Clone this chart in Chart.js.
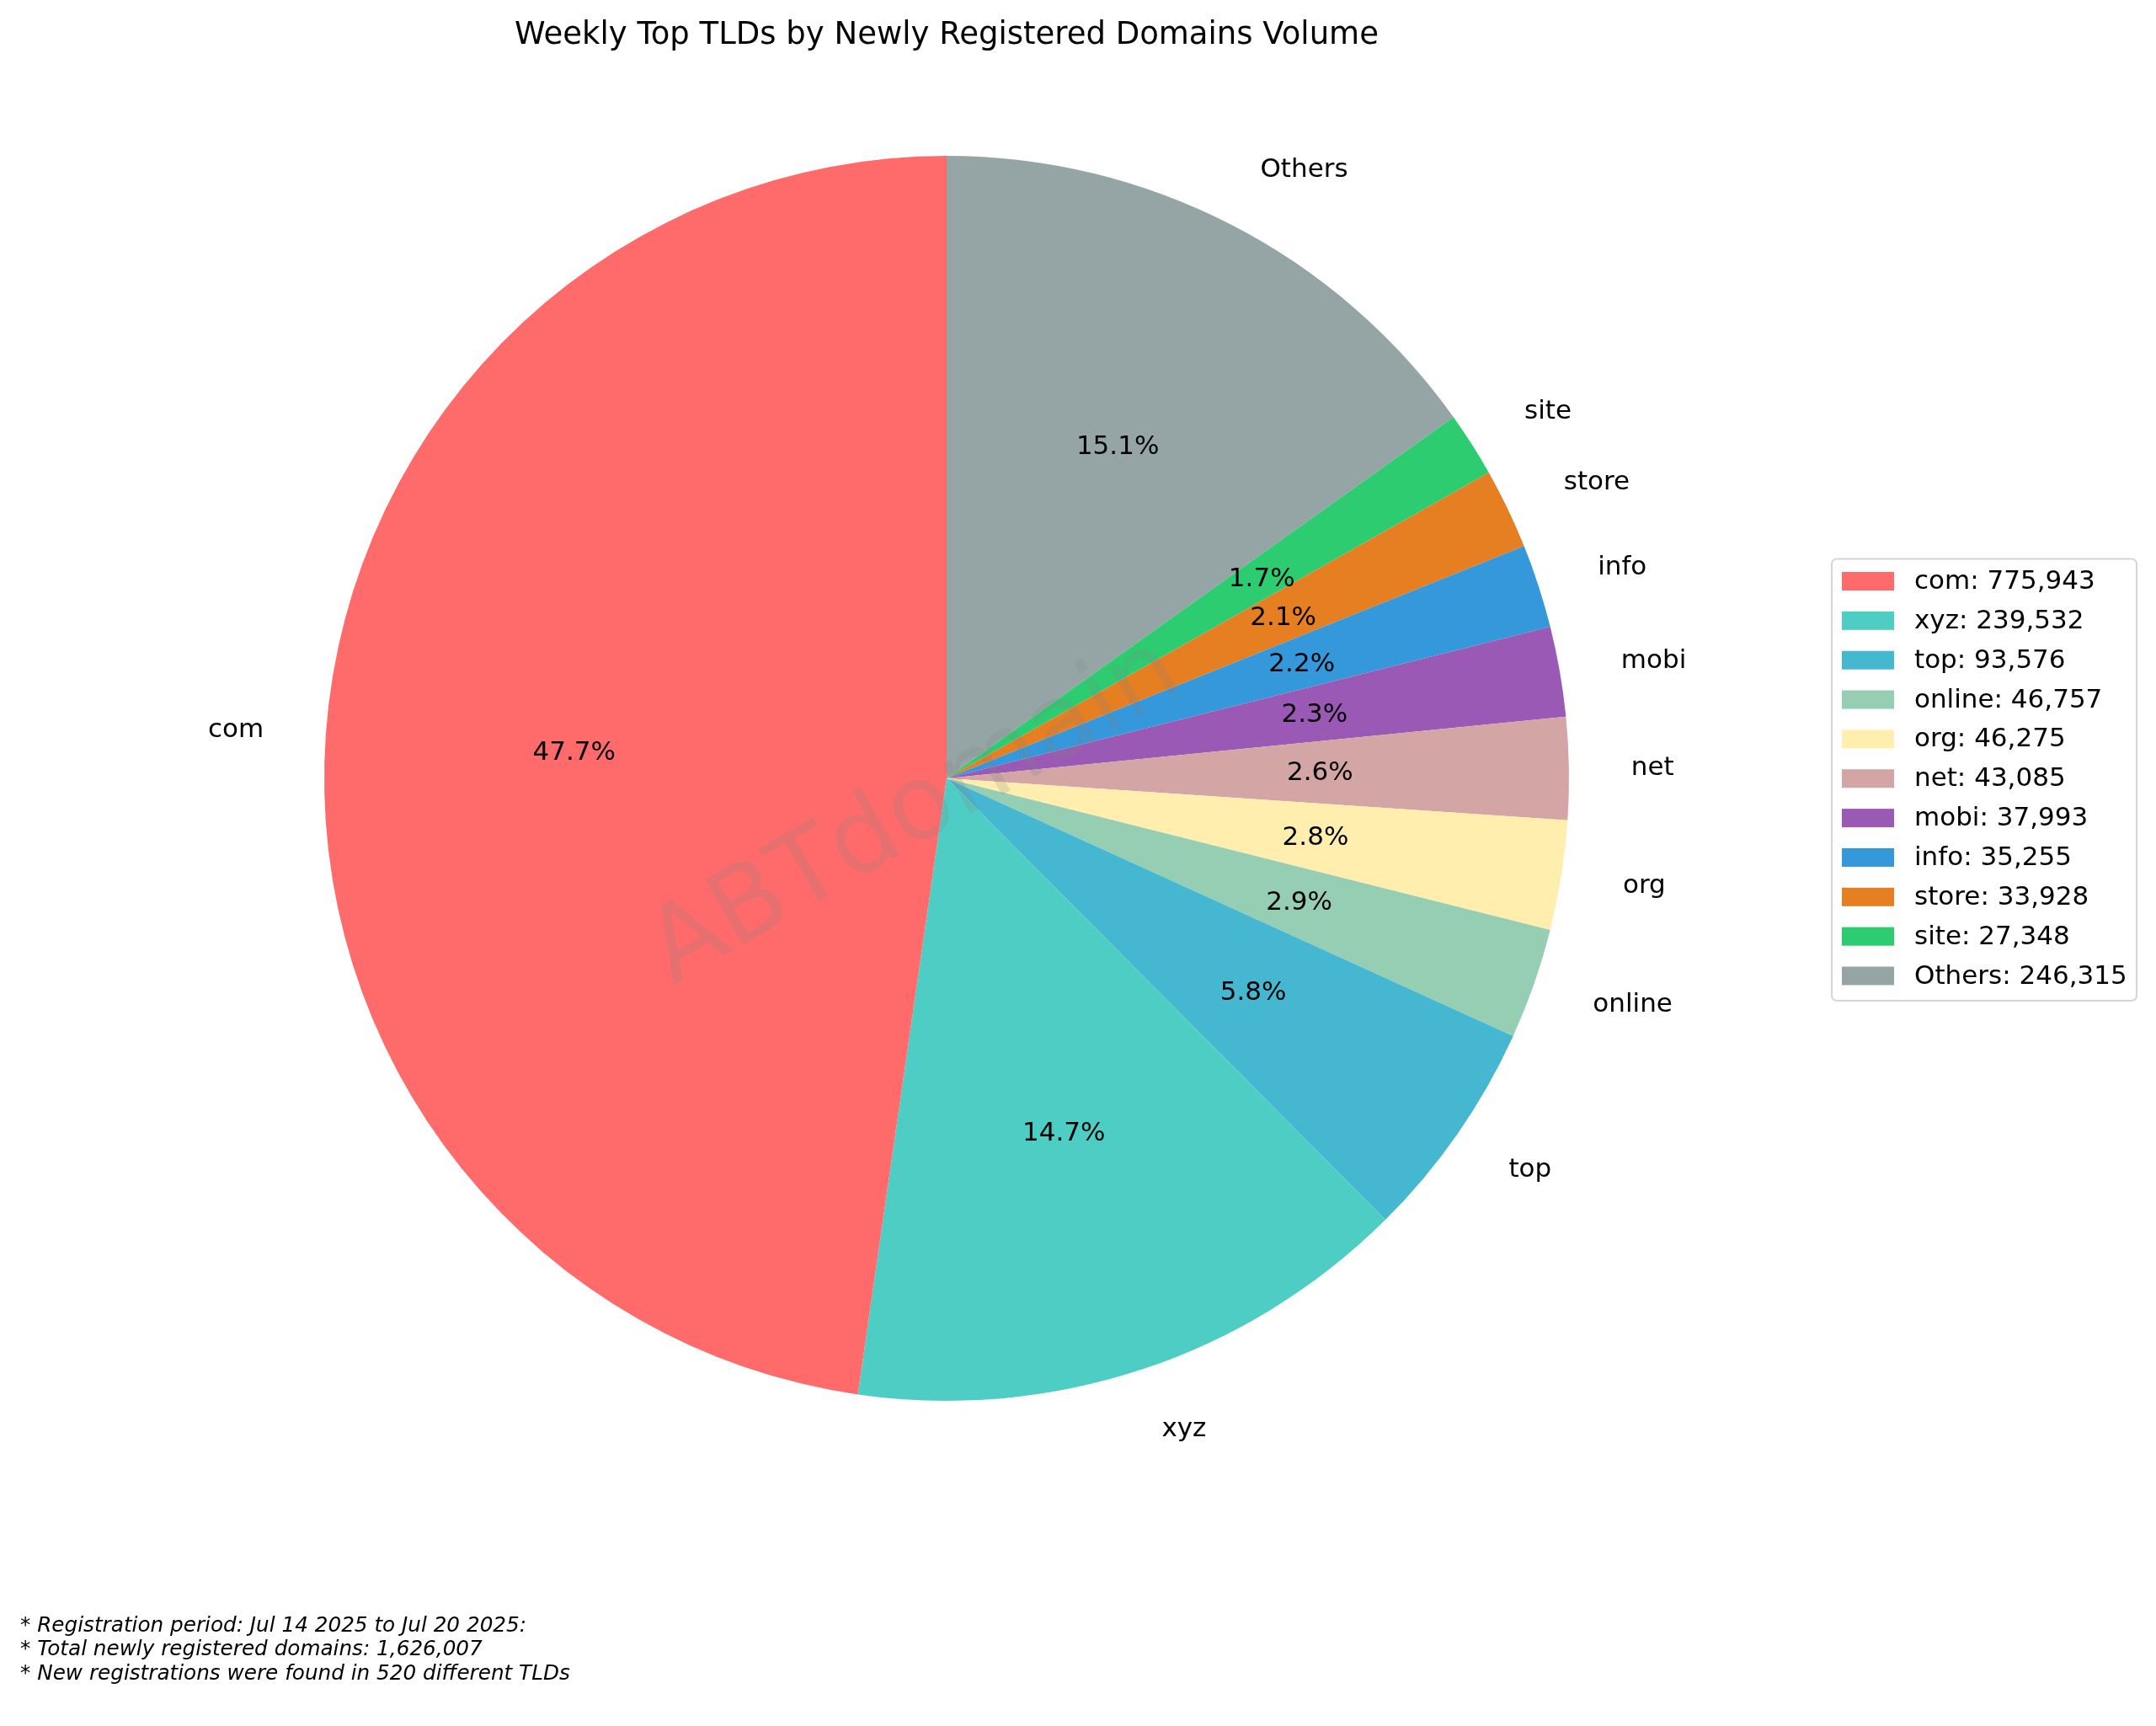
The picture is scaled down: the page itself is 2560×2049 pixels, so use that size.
<!DOCTYPE html>
<html>
<head>
<meta charset="utf-8">
<title>Weekly Top TLDs</title>
<script src="https://cdn.jsdelivr.net/npm/chart.js@4"></script>
<style>
    html, body { margin: 0; padding: 0; background: #fff; }
    canvas { display: block; }
</style>
</head>
<body>
<canvas id="canvas" width="2560" height="2049"></canvas>
<script>
const tlds = ['com', 'xyz', 'top', 'online', 'org', 'net', 'mobi', 'info', 'store', 'site', 'Others'];
const volumes = [775943, 239532, 93576, 46757, 46275, 43085, 37993, 35255, 33928, 27348, 246315];
const colors = ['#FF6B6B', '#4ECDC4', '#45B7D1', '#96CEB4', '#FFEEAD', '#D4A5A5', '#9B59B6', '#3498DB', '#E67E22', '#2ECC71', '#95A5A6'];
const footnotes = [
    '* Registration period: Jul 14 2025 to Jul 20 2025:',
    '* Total newly registered domains: 1,626,007',
    '* New registrations were found in 520 different TLDs'
];
const chartTitle = 'Weekly Top TLDs by Newly Registered Domains Volume';
const watermark = 'ABTdomain';

const FONT = '"DejaVu Sans"';
const total = volumes.reduce((a, b) => a + b, 0);

// the source pie runs counter-clockwise, chart.js runs clockwise, so feed it backwards
const slices = tlds.map((t, i) => i).reverse();

const pieText = {
    id: 'pieText',
    afterDatasetsDraw(chart) {
        const ctx = chart.ctx;
        const arcs = chart.getDatasetMeta(0).data;

        ctx.save();
        ctx.fillStyle = '#000';
        ctx.textBaseline = 'middle';
        ctx.font = '31px ' + FONT;

        arcs.forEach((arc, n) => {
            const i = slices[n];
            const mid = (arc.startAngle + arc.endAngle) / 2;
            const r = arc.outerRadius;

            // name outside the pie
            const lx = arc.x + 1.1 * r * Math.cos(mid);
            const ly = arc.y + 1.1 * r * Math.sin(mid);
            ctx.textAlign = lx > arc.x ? 'left' : 'right';
            ctx.fillText(tlds[i], lx, ly + 1);

            // percentage inside
            ctx.textAlign = 'center';
            const pct = (volumes[i] / total * 100).toFixed(1) + '%';
            ctx.fillText(pct, arc.x + 0.6 * r * Math.cos(mid), arc.y + 0.6 * r * Math.sin(mid) + 1.5);
        });

        // watermark, sits a bit down-left of the pie centre
        const c = arcs[0];
        ctx.translate(c.x - 36, c.y + 42);
        ctx.rotate(-30 * Math.PI / 180);
        ctx.textAlign = 'center';
        ctx.font = '123px ' + FONT;
        ctx.fillStyle = 'rgba(128, 128, 128, 0.2)';
        ctx.fillText(watermark, 0, 0);
        ctx.restore();
    },
    afterDraw(chart) {
        const ctx = chart.ctx;
        ctx.save();

        // legend box
        ctx.beginPath();
        ctx.roundRect(2175, 663.5, 362, 524.5, 6);
        ctx.fillStyle = 'rgba(255, 255, 255, 0.8)';
        ctx.fill();
        ctx.lineWidth = 2.2;
        ctx.strokeStyle = '#d6d6d6';
        ctx.stroke();

        ctx.textAlign = 'left';
        ctx.textBaseline = 'middle';
        ctx.font = '31px ' + FONT;
        tlds.forEach((t, i) => {
            const y = 690 + i * 46.85;
            ctx.fillStyle = colors[i];
            ctx.fillRect(2187, y - 11, 62, 22);
            ctx.fillStyle = '#000';
            ctx.fillText(t + ': ' + volumes[i].toLocaleString('en-US'), 2273, y + 1);
        });

        // notes under the pie
        ctx.font = 'italic 24.7px ' + FONT;
        ctx.textBaseline = 'alphabetic';
        footnotes.forEach((line, i) => {
            ctx.fillText(line, 24, 1937 + i * 28.4);
        });
        ctx.restore();
    }
};

var ctx = document.getElementById('canvas').getContext('2d');

var chart = new Chart(ctx, {
    type: 'pie',
    plugins: [pieText],
    data: {
        labels: slices.map(i => tlds[i]),
        datasets: [{
            data: slices.map(i => volumes[i]),
            backgroundColor: slices.map(i => colors[i]),
            borderWidth: 0,
            hoverOffset: 0
        }]
    },
    options: {
        responsive: false,
        animation: false,
        devicePixelRatio: 1,
        layout: {
            padding: { left: 385, right: 697, top: 0, bottom: 386 }
        },
        plugins: {
            legend: { display: false },
            tooltip: { enabled: false },
            title: {
                display: true,
                text: chartTitle,
                fullSize: false,
                color: '#000',
                font: { family: 'DejaVu Sans', size: 37, weight: 'normal', lineHeight: 1 },
                padding: { top: 24, bottom: 124 }
            }
        }
    }
});
</script>
</body>
</html>
